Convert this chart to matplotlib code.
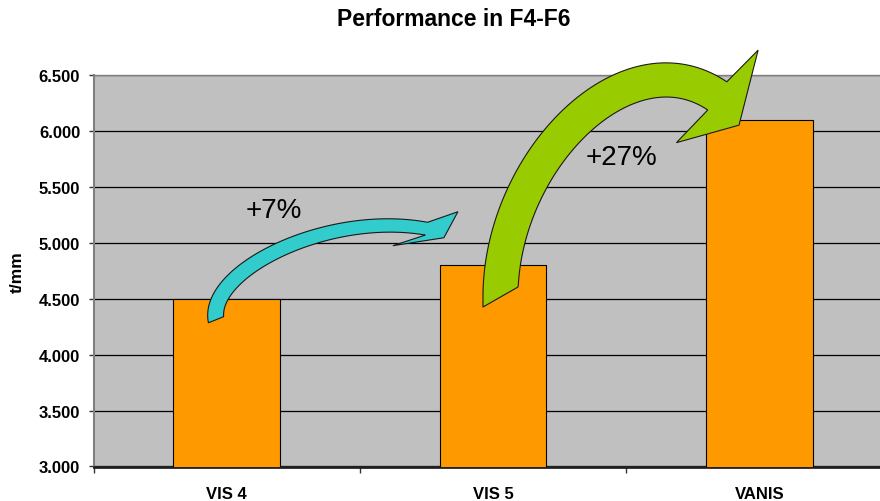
import numpy as np
import matplotlib
matplotlib.use('Agg')
import matplotlib.pyplot as plt
from matplotlib.patches import Polygon
from matplotlib.ticker import FuncFormatter, FixedLocator

plt.rcParams['font.family'] = ['Liberation Sans', 'DejaVu Sans']

# data
models = ['VIS 4', 'VIS 5', 'VANIS']
perf = [4500, 4800, 6100]          # t/mm
gains = ['+7%', '+27%']
y_min, y_max, y_step = 3000, 6500, 500

# curved arrows: bezier control points in data coords (x = category index)
arrow_cyan = [(-0.04, 4312), (-0.07, 4755), (0.38, 5285), (0.75, 5126)]
arrow_green = [(1.028, 4515), (1.028, 5726), (1.50, 6864), (1.842, 6313)]
gain_pos = [(0.176, 5292), (1.484, 5771)]

fig = plt.figure(figsize=(8.8, 5.02), dpi=100)
ax = fig.add_axes([93.5 / 880, 34.5 / 502, 799 / 880, 391.5 / 502])
ax.set_facecolor('#C0C0C0')

x = np.arange(len(models))
ax.bar(x, perf, width=0.4, color='#FF9900', edgecolor='black', linewidth=0.8, zorder=3)

ax.set_xlim(-0.5, len(models) - 0.5)
ax.set_ylim(y_min, y_max)
ax.set_yticks(np.arange(y_min, y_max + 1, y_step))
ax.yaxis.set_major_formatter(FuncFormatter(lambda v, p: '{:,.0f}'.format(v).replace(',', '.')))
ax.yaxis.grid(True, color='black', linewidth=0.9)
ax.set_axisbelow(True)

ax.set_xticks(x)
ax.set_xticklabels(models)
ax.xaxis.set_minor_locator(FixedLocator(np.arange(-0.5, len(models), 1.0)))
ax.tick_params(axis='x', which='major', length=0, pad=14, labelsize=12)
ax.tick_params(axis='x', which='minor', length=4.5, width=1, color='#333333')
ax.tick_params(axis='y', length=3.6, width=1, color='#333333', pad=6, labelsize=12)
for lab in ax.get_xticklabels() + ax.get_yticklabels():
    lab.set_fontweight('bold')

ax.spines['left'].set_color('#808080')
ax.spines['left'].set_linewidth(1.5)
ax.spines['bottom'].set_color('#222222')
ax.spines['bottom'].set_linewidth(2)
ax.spines['top'].set_color('#808080')
ax.spines['top'].set_linewidth(1)
ax.spines['right'].set_visible(False)

ax.set_ylabel('t/mm', fontsize=12.5, fontweight='bold', labelpad=10)
fig.text(454 / 880, 1 - 19 / 502, 'Performance in F4-F6', ha='center', va='center',
         fontsize=16.5, fontweight='bold')


def curved_arrow(ax, ctrl, w0, w1, head, skew, color):
    """Block arrow along a cubic bezier; widths, head offsets and tail skew in pixels."""
    p0, p1, p2, p3 = ax.transData.transform(ctrl)
    t = np.linspace(0, 1, 150)[:, None]
    b = (1 - t) ** 3 * p0 + 3 * t * (1 - t) ** 2 * p1 + 3 * t ** 2 * (1 - t) * p2 + t ** 3 * p3
    d = 3 * (1 - t) ** 2 * (p1 - p0) + 6 * t * (1 - t) * (p2 - p1) + 3 * t ** 2 * (p3 - p2)
    d = d / np.linalg.norm(d, axis=1)[:, None]
    n = np.column_stack([d[:, 1], -d[:, 0]])
    w = (w0 + (w1 - w0) * t) / 2
    left = b - n * w
    right = b + n * w
    # slanted tail cut
    arc = np.concatenate([[0], np.cumsum(np.linalg.norm(np.diff(b, axis=0), axis=1))])
    corner_l = left[0] - skew * d[0]
    corner_r = right[0] + skew * d[0]
    left = np.vstack([corner_l, left[1:]])
    right = np.vstack([corner_r, right[arc > skew + 1]])
    u, v = d[-1], n[-1]
    tip = [p3 + hu * u + hv * v for hu, hv in head]
    poly = np.vstack([left, tip, right[::-1]])
    poly = ax.transData.inverted().transform(poly)
    ax.add_patch(Polygon(poly, closed=True, facecolor=color, edgecolor='#1a1a1a',
                         linewidth=0.8, zorder=4, clip_on=False))


curved_arrow(ax, arrow_cyan, 16, 13, [(28.0, -22.3), (18.8, 5.8), (-30, 22.7)], 1.8, '#33CCCC')
curved_arrow(ax, arrow_green, 35, 34, [(8.2, -60.8), (34.4, 12.0), (-7.6, 61.6)], 10, '#99CC00')

for g, (gx, gy) in zip(gains, gain_pos):
    ax.text(gx, gy, g, ha='center', va='center', fontsize=20, zorder=5)

fig.savefig('out.png', dpi=100)
